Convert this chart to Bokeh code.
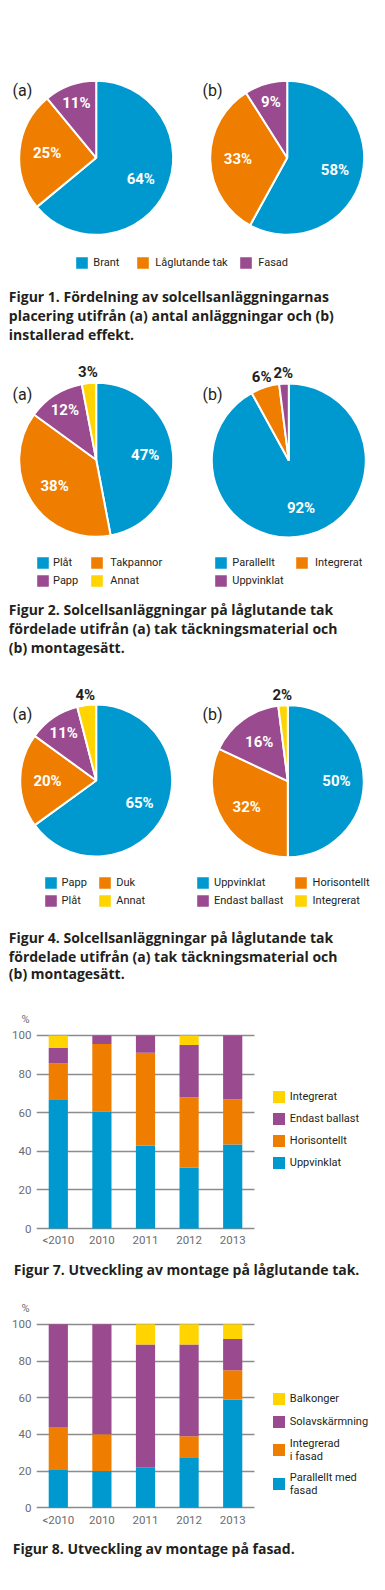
import numpy as np
from bokeh.plotting import figure
from bokeh.models import (Range1d, ColumnDataSource, Legend, LegendItem,
                          FixedTicker)
from bokeh.embed import file_html
from bokeh.resources import INLINE
from bokeh.core.properties import value

# ---------------- data ----------------
fig1_labels = ["Brant", "Låglutande tak", "Fasad"]
fig1a_values = [64, 25, 11]
fig1b_values = [58, 33, 9]
fig1_caption = ["Figur 1. Fördelning av solcellsanläggningarnas",
                "placering utifrån (a) antal anläggningar och (b)",
                "installerad effekt."]

fig2a_labels = ["Plåt", "Takpannor", "Papp", "Annat"]
fig2a_values = [47, 38, 12, 3]
fig2b_labels = ["Parallellt", "Integrerat", "Uppvinklat"]
fig2b_values = [92, 6, 2]
fig2_caption = ["Figur 2.  Solcellsanläggningar på låglutande tak",
                "fördelade utifrån (a) tak täckningsmaterial och",
                "(b) montagesätt."]

fig4a_labels = ["Papp", "Duk", "Plåt", "Annat"]
fig4a_values = [65, 20, 11, 4]
fig4b_labels = ["Uppvinklat", "Horisontellt", "Endast ballast", "Integrerat"]
fig4b_values = [50, 32, 16, 2]
fig4_caption = ["Figur 4. Solcellsanläggningar på låglutande tak",
                "fördelade utifrån (a) tak täckningsmaterial och",
                "(b) montagesätt."]

years = ["<2010", "2010", "2011", "2012", "2013"]
y_ticks = [0, 20, 40, 60, 80, 100]

fig7_series = ["Uppvinklat", "Horisontellt", "Endast ballast", "Integrerat"]
fig7_uppvinklat = [67, 60.5, 43, 31.5, 43.5]
fig7_horisontellt = [18.5, 35, 48, 36.5, 23.5]
fig7_endast_ballast = [8, 4.5, 9, 27, 33]
fig7_integrerat = [6.5, 0, 0, 5, 0]
fig7_caption = ["Figur 7. Utveckling av montage på låglutande tak."]

fig8_series = ["Parallellt med\nfasad", "Integrerad\ni fasad", "Solavskärmning", "Balkonger"]
fig8_parallellt = [21, 20, 22, 27.5, 59]
fig8_integrerad = [23, 20, 0, 11.5, 16]
fig8_solavskarmning = [56, 60, 67, 50, 17]
fig8_balkonger = [0, 0, 11, 11, 8]
fig8_caption = ["Figur 8. Utveckling av montage på fasad."]

# ---------------- style ----------------
BLUE, ORANGE, PURPLE, YELLOW = "#0099cf", "#ee7d00", "#9a4a8e", "#ffd400"
COLORS = [BLUE, ORANGE, PURPLE, YELLOW]
FONT = "Roboto"
CAP_FONT = "Open Sans"
DARK = "#231f20"
GREY = "#6d6d6d"
W = 385


def section(H):
    p = figure(width=W, height=H, x_range=Range1d(0, W), y_range=Range1d(0, H),
               x_axis_type=None, y_axis_type=None, output_backend="svg",
               toolbar_location=None, min_border=0, min_border_left=0,
               min_border_right=0, min_border_top=0, min_border_bottom=0)
    p.grid.visible = False
    p.outline_line_color = None
    return p


def pie(p, top, H, cx_page, cy_page, r, values):
    cx = cx_page
    cy = H - (cy_page - top)
    v = np.array(values, float)
    frac = v / v.sum()
    n = len(v)
    cum = np.concatenate([[0.0], np.cumsum(frac)])
    start = np.pi / 2 - 2 * np.pi * cum[:-1]
    end = np.pi / 2 - 2 * np.pi * cum[1:]
    src = ColumnDataSource(dict(x=[cx] * n, y=[cy] * n, start=start, end=end,
                                color=COLORS[:n]))
    rend = p.wedge(x="x", y="y", radius=r, start_angle="start", end_angle="end",
                   direction="clock", fill_color="color", line_color="white",
                   line_width=2, source=src)
    mid = (start + end) / 2
    outside = frac < 0.07
    rf = np.where(outside, 1.14, np.where(frac < 0.15, 0.76, 0.64))
    lsrc = ColumnDataSource(dict(
        x=cx + r * rf * np.cos(mid), y=cy + r * rf * np.sin(mid),
        t=[f"{int(a)}%" for a in v],
        c=[DARK if o else "white" for o in outside]))
    p.text(x="x", y="y", text="t", text_color="c", source=lsrc,
           text_font=value(FONT), text_font_size="15px", text_font_style="bold",
           text_align="center", text_baseline="middle")
    return rend


def add_legend(p, top, H, rend, labels, idxs, sq_left_page, first_center_page,
               spacing=1, standoff=3):
    items = [LegendItem(label=labels[i], renderers=[rend], index=i) for i in idxs]
    n = len(idxs)
    g = 17
    bottom_page = first_center_page - g / 2 + n * g + (n - 1) * spacing
    lg = Legend(items=items, location=(sq_left_page - 2.7, H - (bottom_page - top)),
                orientation="vertical", glyph_width=g, glyph_height=g,
                label_height=12, label_standoff=standoff, spacing=spacing,
                padding=0, margin=0, border_line_color=None,
                background_fill_alpha=0, label_text_font=FONT,
                label_text_font_size="11px", label_text_color=DARK)
    p.add_layout(lg)


def texts(p, top, H, lines, x_page, ys_page, size="14px", style="bold",
          color=DARK, align="left", font=CAP_FONT):
    src = ColumnDataSource(dict(x=[x_page] * len(lines),
                                y=[H - (yy - top) for yy in ys_page], t=lines))
    p.text(x="x", y="y", text="t", source=src, text_font=value(font),
           text_font_size=size, text_font_style=style, text_color=color,
           text_align=align, text_baseline="middle")


# ---------------- section 1 ----------------
T1, H1 = 0, 352
s1 = section(H1)
w1a = pie(s1, T1, H1, 95.7, 157.3, 77, fig1a_values)
w1b = pie(s1, T1, H1, 286.7, 157.3, 77, fig1b_values)
texts(s1, T1, H1, ["(a)"], 12, [89.5], size="16px", style="normal", font=FONT)
texts(s1, T1, H1, ["(b)"], 202, [89.5], size="16px", style="normal", font=FONT)
add_legend(s1, T1, H1, w1a, fig1_labels, [0], 76, 262, standoff=3)
add_legend(s1, T1, H1, w1a, fig1_labels, [1], 137, 262, standoff=4)
add_legend(s1, T1, H1, w1a, fig1_labels, [2], 240, 262, standoff=4)
texts(s1, T1, H1, fig1_caption, 8.3, [295.7, 315, 334.3])

# ---------------- section 2 ----------------
T2, H2 = 352, 313
s2 = section(H2)
w2a = pie(s2, T2, H2, 95.7, 459.3, 77, fig2a_values)
w2b = pie(s2, T2, H2, 288.3, 460, 77, fig2b_values)
texts(s2, T2, H2, ["(a)"], 12, [394], size="16px", style="normal", font=FONT)
texts(s2, T2, H2, ["(b)"], 202, [394], size="16px", style="normal", font=FONT)
add_legend(s2, T2, H2, w2a, fig2a_labels, [0, 2], 36.7, 562.3, standoff=2)
add_legend(s2, T2, H2, w2a, fig2a_labels, [1, 3], 91, 562.3, standoff=5)
add_legend(s2, T2, H2, w2b, fig2b_labels, [0, 2], 215, 562.3, standoff=3)
add_legend(s2, T2, H2, w2b, fig2b_labels, [1], 295.7, 562.3, standoff=5)
texts(s2, T2, H2, fig2_caption, 8.3, [609.3, 628.3, 646.7])

# ---------------- section 3 ----------------
T3, H3 = 665, 325
s3 = section(H3)
w3a = pie(s3, T3, H3, 95.7, 780, 76, fig4a_values)
w3b = pie(s3, T3, H3, 287.3, 780.7, 76, fig4b_values)
texts(s3, T3, H3, ["(a)"], 12, [714.3], size="16px", style="normal", font=FONT)
texts(s3, T3, H3, ["(b)"], 202, [714.3], size="16px", style="normal", font=FONT)
add_legend(s3, T3, H3, w3a, fig4a_labels, [0, 2], 44.3, 882.3, standoff=3)
add_legend(s3, T3, H3, w3a, fig4a_labels, [1, 3], 99, 882.3, standoff=3)
add_legend(s3, T3, H3, w3b, fig4b_labels, [0, 2], 196.7, 882.3, standoff=3)
add_legend(s3, T3, H3, w3b, fig4b_labels, [1, 3], 294.3, 882.3, standoff=4)
texts(s3, T3, H3, fig4_caption, 8.3, [937.3, 955.7, 973.3])


# ---------------- bar charts ----------------
FRAME_L, PLOT_W = 36, 218   # plot area (bars + grid) width in px


def bars(top, H, frame_h, names, stacks, legend_bottom_center, legend_spacing,
         x_standoff):
    border_top = 5
    border_bottom = H - border_top - frame_h
    ncat = len(years)
    x_end = ncat * (W - FRAME_L) / PLOT_W
    p = figure(width=W, height=H, x_range=Range1d(0, x_end),
               y_range=Range1d(-1, 101), output_backend="svg", toolbar_location=None,
               min_border_left=FRAME_L, min_border_right=0,
               min_border_top=border_top, min_border_bottom=border_bottom)
    frame_bottom_page = top + border_top + frame_h
    xs = [i + 0.5 for i in range(ncat)]
    keys = [f"s{i}" for i in range(len(stacks))]
    data = dict(x=xs)
    for k, s in zip(keys, stacks):
        data[k] = s
    src = ColumnDataSource(data)
    rends = p.vbar_stack(keys, x="x", width=0.44, fill_color=COLORS[:len(keys)],
                         line_color=None, source=src)
    p.outline_line_color = None
    p.xgrid.visible = False
    p.yaxis.ticker = FixedTicker(ticks=y_ticks)
    p.xaxis.ticker = FixedTicker(ticks=xs)
    p.xaxis.major_label_overrides = {x: yr for x, yr in zip(xs, years)}
    g = p.ygrid[0]
    if "cross_bounds" in g.properties():
        g.cross_bounds = (0, ncat)
        g.grid_line_color = "#8c8c8c"
        g.grid_line_width = 1.5
    else:
        g.visible = False
        p.segment(x0=[0] * len(y_ticks), x1=[ncat] * len(y_ticks), y0=y_ticks,
                  y1=y_ticks, line_color="#8c8c8c", line_width=1.5, level="underlay")
    for ax in (p.xaxis[0], p.yaxis[0]):
        ax.axis_line_color = None
        ax.major_tick_line_color = None
        ax.minor_tick_line_color = None
        ax.major_tick_out = 0
        ax.major_tick_in = 0
        ax.major_label_text_font = FONT
        ax.major_label_text_font_size = "11.5px"
        ax.major_label_text_color = GREY
    p.yaxis.major_label_standoff = 5
    p.xaxis.major_label_standoff = x_standoff
    order = list(range(len(keys)))[::-1]
    items = [LegendItem(label=names[i], renderers=[rends[i]]) for i in order]
    bottom_page = legend_bottom_center + 7.5
    lg = Legend(items=items,
                location=(270.8 - FRAME_L, frame_bottom_page - bottom_page),
                orientation="vertical", glyph_width=15, glyph_height=15,
                label_height=12, label_standoff=4, spacing=legend_spacing,
                padding=0, margin=0, border_line_color=None,
                background_fill_alpha=0, label_text_font=FONT,
                label_text_font_size="11px", label_text_color=DARK)
    p.add_layout(lg)
    return p


# Figure 7
T4a, H4a = 990, 38
s4a = section(H4a)
texts(s4a, T4a, H4a, ["%"], 25, [1019.3], size="11px", style="normal",
      color=GREY, align="center", font=FONT)
s4 = bars(1028, 226, 197, fig7_series,
          [fig7_uppvinklat, fig7_horisontellt, fig7_endast_ballast, fig7_integrerat],
          1162.7, 7, 2)
T4c, H4c = 1254, 31
s4c = section(H4c)
texts(s4c, T4c, H4c, fig7_caption, 13.3, [1269.3])

# Figure 8
T5a, H5a = 1285, 32
s5a = section(H5a)
texts(s5a, T5a, H5a, ["%"], 25, [1308.3], size="11px", style="normal",
      color=GREY, align="center", font=FONT)
s5 = bars(1317, 216, 187, fig8_series,
          [fig8_parallellt, fig8_integrerad, fig8_solavskarmning, fig8_balkonger],
          1489, 8, 3)
T5c, H5c = 1533, 57
s5c = section(H5c)
texts(s5c, T5c, H5c, fig8_caption, 12.3, [1548.3])

p = [s1, s2, s3, s4a, s4, s4c, s5a, s5, s5c]
open("out.html", "w").write(file_html(p, INLINE))
